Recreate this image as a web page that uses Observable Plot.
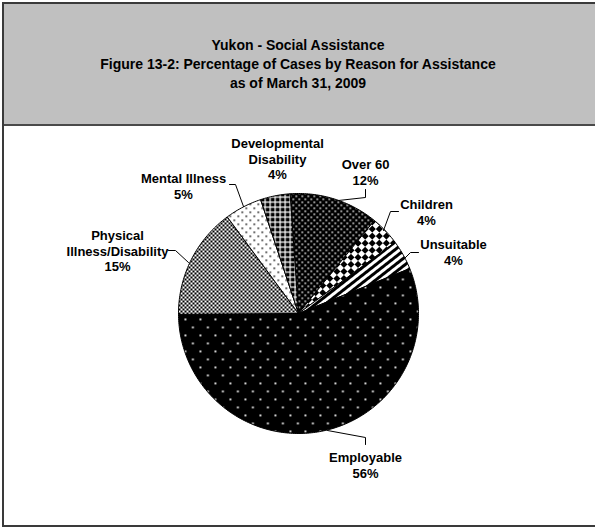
<!DOCTYPE html>
<html><head><meta charset="utf-8">
<script src="https://cdn.jsdelivr.net/npm/d3@7"></script>
<script src="https://cdn.jsdelivr.net/npm/@observablehq/plot@0.6"></script>
<style>
html,body{margin:0;padding:0;background:#fff;overflow:hidden;}
body{width:595px;height:529px;position:relative;font-family:"Liberation Sans",Arial,sans-serif;}
#frame{position:absolute;left:2px;top:2px;width:600px;height:525px;box-sizing:border-box;border:2px solid #3a3a3a;background:#fff;}
#title{position:absolute;left:0;top:0;width:596px;height:122px;box-sizing:border-box;background:#c0c0c0;border-bottom:2px solid #4a4a4a;}
#title div{position:absolute;left:0;width:588px;top:0;height:120px;display:flex;flex-direction:column;justify-content:center;align-items:center;font-weight:bold;font-size:14px;line-height:19px;color:#000;}
#plot{position:absolute;left:0;top:122px;}
#plot svg{display:block;}
</style></head>
<body>
<div id="frame"><div id="title"><div id="tt"></div></div><div id="plot"></div></div>
<script>
// ---- data ----
const titleLines = ["Yukon - Social Assistance", "Figure 13-2: Percentage of Cases by Reason for Assistance", "as of March 31, 2009"];
const categories = ["Over 60", "Children", "Unsuitable", "Employable", "Physical Illness/Disability", "Mental Illness", "Developmental Disability"];
const labelNames = [["Over 60"], ["Children"], ["Unsuitable"], ["Employable"], ["Physical", "Illness/Disability"], ["Mental Illness"], ["Developmental", "Disability"]];
const percents = [12, 4, 4, 56, 15, 5, 4];

// ---- layout (page pixels) ----
const W = 591, H = 399, CX = 294, CY = 187, R = 120, START = -4;
const PCX = 298, PCY = 313; // pie centre on the page
const labelPos = [[365, 171], [426, 211], [453, 251], [365, 464], [117, 250], [183, 185], [277, 158]];
const leaderPts = [
  [[365, 189], [365, 197], [338, 200]],
  [[398, 211], [390, 211], [383, 230]],
  [[418, 252], [410, 252], [404, 258]],
  [[365, 444], [365, 437], [327, 430]],
  [[168, 250], [175, 250], [188, 262]],
  [[229, 184], [235, 184], [243, 206]],
  []
];
const toU = ([px, py]) => ({x: (px - PCX) / R, y: (PCY - py) / R});

document.getElementById("tt").innerHTML = titleLines.map(t => `<span>${t}</span>`).join("");

const arcs = d3.pie().sort(null).value(d => d)
  .startAngle(START * Math.PI / 180).endAngle(START * Math.PI / 180 + 2 * Math.PI)(percents);

const slicePts = arcs.map(a => {
  const n = Math.max(6, Math.ceil((a.endAngle - a.startAngle) * 180 / Math.PI));
  const pts = [{x: 0, y: 0}];
  for (let k = 0; k <= n; k++) {
    const t = a.startAngle + (a.endAngle - a.startAngle) * k / n;
    pts.push({x: Math.sin(t), y: Math.cos(t)});
  }
  pts.push({x: 0, y: 0});
  return pts;
});

const labels = categories.map((c, i) => ({
  ...toU(labelPos[i]),
  text: [...labelNames[i], percents[i] + "%"].join("\n")
}));

const marks = [];
slicePts.forEach((pts, i) => {
  marks.push(Plot.line(pts, {x: "x", y: "y", fill: `url(#pat${i})`, stroke: "#000", strokeWidth: 1, curve: "linear"}));
});
leaderPts.forEach(pts => {
  if (pts.length) marks.push(Plot.line(pts.map(toU), {x: "x", y: "y", stroke: "#000", strokeWidth: 1}));
});
marks.push(Plot.text(labels, {x: "x", y: "y", text: "text", fontSize: 13, fontWeight: "bold", fill: "#000",
  lineHeight: 1.22, textAnchor: "middle", lineAnchor: "middle", fontFamily: "Liberation Sans, Arial, sans-serif"}));

const chart = Plot.plot({
  width: W, height: H, margin: 0,
  style: {background: "transparent", fontFamily: "Liberation Sans, Arial, sans-serif"},
  x: {domain: [-CX / R, (W - CX) / R], range: [0, W], axis: null},
  y: {domain: [-(H - CY) / R, CY / R], range: [H, 0], axis: null},
  marks
});

// patterns
const defs = d3.select(chart).insert("defs", ":first-child");
function pat(id, w, h, bg, rects, transform) {
  const p = defs.append("pattern").attr("id", id).attr("patternUnits", "userSpaceOnUse")
    .attr("width", w).attr("height", h);
  if (transform) p.attr("patternTransform", transform);
  p.append("rect").attr("width", w).attr("height", h).attr("fill", bg);
  for (const [x, y, rw, rh, f] of rects)
    p.append("rect").attr("x", x).attr("y", y).attr("width", rw).attr("height", rh).attr("fill", f);
}
pat("pat0", 6, 6, "#000", [[0, 0, 1.5, 1.5, "#fff"], [3, 3, 1.5, 1.5, "#fff"]]);
pat("pat1", 10, 10, "#fff", [[0, 0, 5, 5, "#000"], [5, 5, 5, 5, "#000"]], "rotate(45)");
pat("pat2", 6, 6, "#fff", [[0, 0, 6, 3, "#000"]], "rotate(-38)");
pat("pat3", 15, 16, "#000", [[0, 0, 1.8, 1.8, "#fff"], [7.5, 8, 1.8, 1.8, "#fff"]]);
pat("pat4", 4, 4, "#fff", [[0, 0, 2, 2, "#000"], [2, 2, 2, 2, "#000"]]);
pat("pat5", 8, 8, "#fff", [[1, 1, 1.5, 1.5, "#000"], [5, 5, 1.5, 1.5, "#000"]]);
pat("pat6", 5, 5, "#000", [[0, 0, 5, 1.2, "#fff"], [0, 0, 1.2, 5, "#fff"]]);

document.getElementById("plot").appendChild(chart);
</script>
</body></html>
